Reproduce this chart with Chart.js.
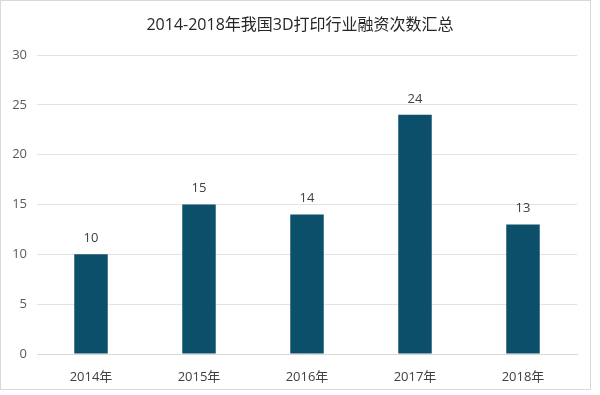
<!DOCTYPE html>
<html>
<head>
<meta charset="utf-8">
<script src="https://cdn.jsdelivr.net/npm/chart.js@4"></script>
<style>
  html, body { margin: 0; padding: 0; background: #fff; }
  #wrap { position: relative; width: 600px; height: 395px; }
  #frame { position: absolute; left: 0; top: 0; width: 591px; height: 390px; border: 1px solid #d9d9d9; box-sizing: border-box; }
  #mycanvas { position: absolute; left: 0; top: 0; }
</style>
</head>
<body>
<div id="wrap">
  <div id="frame"></div>
  <canvas id="mycanvas" width="600" height="395"></canvas>
</div>
<script>
var years = ['2014年', '2015年', '2016年', '2017年', '2018年'];
var counts = [10, 15, 14, 24, 13];
var yTicks = [0, 5, 10, 15, 20, 25, 30];
var titleText = '2014-2018年我国3D打印行业融资次数汇总';

var fontFam = '"Open Sans", "Noto Sans CJK SC", sans-serif';

// value above each bar + title centred on the whole picture
var valueLabels = {
  id: 'valueLabels',
  afterDatasetsDraw: function(chart) {
    var ctx = chart.ctx;
    var meta = chart.getDatasetMeta(0);
    ctx.save();
    ctx.fillStyle = '#404040';
    ctx.font = '13px ' + fontFam;
    ctx.textAlign = 'center';
    ctx.textBaseline = 'middle';
    meta.data.forEach(function(bar, i) {
      ctx.fillText(chart.data.datasets[0].data[i], bar.x, bar.y - 16);
    });
    ctx.font = '16px ' + fontFam;
    ctx.fillStyle = '#262626';
    ctx.fillText(titleText, 300, 25);
    ctx.restore();
  }
};

var chartdata = {
  labels: years,
  datasets: [{
    label: '融资次数',
    backgroundColor: '#0b4f6a',
    borderWidth: 0,
    data: counts,
    barPercentage: 0.31,
    categoryPercentage: 1
  }]
};

var ctx = document.getElementById('mycanvas');
var barGraph = new Chart(ctx, {
  type: 'bar',
  data: chartdata,
  plugins: [valueLabels],
  options: {
    responsive: false,
    animation: false,
    layout: { padding: { left: 0, right: 23, top: 55, bottom: 10 } },
    plugins: {
      legend: { display: false },
      tooltip: { enabled: false },
      title: { display: false }
    },
    scales: {
      x: {
        grid: { display: false },
        border: { color: '#d9d9d9', width: 1 },
        ticks: { color: '#404040', font: { family: fontFam, size: 13 }, padding: 7 },
        afterFit: function(scale) { scale.height = 31; }
      },
      y: {
        min: 0,
        max: 30,
        afterBuildTicks: function(scale) {
          scale.ticks = yTicks.map(function(v) { return { value: v }; });
        },
        grid: { color: '#e3e3e3', drawTicks: false },
        border: { display: false },
        ticks: { color: '#595959', font: { family: fontFam, size: 13 }, padding: 10 },
        afterFit: function(scale) { scale.width = 37; }
      }
    }
  }
});
</script>
</body>
</html>
